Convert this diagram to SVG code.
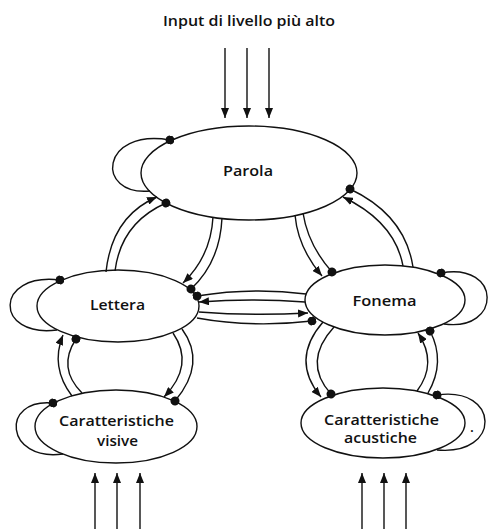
<svg xmlns="http://www.w3.org/2000/svg" width="489" height="529" viewBox="0 0 489 529">
<style>
.n{fill:#fff;stroke:#111;stroke-width:1.4}
.c{fill:none;stroke:#111;stroke-width:1.4}
.a{marker-end:url(#arr)}
.d{marker-end:url(#dot)}
text{font-family:"Open Sans","Noto Sans","Liberation Sans",sans-serif;font-weight:600;fill:#111;text-anchor:middle;font-size:14px}
</style>
<defs>
<marker id="arr" viewBox="0 0 10 8" refX="10" refY="4" markerWidth="10" markerHeight="8" orient="auto" markerUnits="userSpaceOnUse"><path d="M0,0 L10,4 L0,8 z" fill="#111"/></marker>
<marker id="dot" viewBox="0 0 9 9" refX="4.5" refY="4.5" markerWidth="9" markerHeight="9" orient="auto" markerUnits="userSpaceOnUse"><circle cx="4.5" cy="4.5" r="4.5" fill="#111"/></marker>
</defs>
<rect width="489" height="529" fill="#fff"/>
<text x="249" y="26" font-size="13.5" textLength="172" lengthAdjust="spacingAndGlyphs">Input di livello più alto</text>
<g id="parola">
<ellipse class="n" cx="249" cy="173" rx="108" ry="47"/>
<text x="248" y="176" textLength="50" lengthAdjust="spacingAndGlyphs">Parola</text>
</g>
<g id="lettera">
<ellipse class="n" cx="118" cy="306" rx="81" ry="36"/>
<text x="117.5" y="310" textLength="55" lengthAdjust="spacingAndGlyphs">Lettera</text>
</g>
<g id="fonema">
<ellipse class="n" cx="385" cy="300" rx="80" ry="35"/>
<text x="384.5" y="306" textLength="64" lengthAdjust="spacingAndGlyphs">Fonema</text>
</g>
<g id="caratteristiche-visive">
<ellipse class="n" cx="116" cy="426.5" rx="81" ry="36.5"/>
<text x="116.5" y="426" textLength="115" lengthAdjust="spacingAndGlyphs">Caratteristiche</text>
<text x="117.5" y="446" textLength="41" lengthAdjust="spacingAndGlyphs">visive</text>
</g>
<g id="caratteristiche-acustiche">
<ellipse class="n" cx="383" cy="423" rx="82" ry="35"/>
<text x="381.5" y="425" textLength="115" lengthAdjust="spacingAndGlyphs">Caratteristiche</text>
<text x="380.5" y="443" textLength="73" lengthAdjust="spacingAndGlyphs">acustiche</text>
</g>
<text x="472" y="432">.</text>
<g id="connectors">
<path class="c a" d="M225,48 L225,118"/>
<path class="c a" d="M247,48 L247,118"/>
<path class="c a" d="M269,48 L269,118"/>
<path class="c a" d="M95,529 L95,473"/>
<path class="c a" d="M117,529 L117,473"/>
<path class="c a" d="M140,529 L140,473"/>
<path class="c a" d="M362,529 L362,473"/>
<path class="c a" d="M384,529 L384,473"/>
<path class="c a" d="M406,529 L406,473"/>
<path class="c d" d="M150,191 C95,196 100,128 170,140"/>
<path class="c d" d="M57,330 C-6,338 -6,272 60,280"/>
<path class="c d" d="M444,324 C502,332 502,262 441,273"/>
<path class="c d" d="M63,454 C5,462 0,398 53,403"/>
<path class="c d" d="M437,450 C502,456 500,386 437,395"/>
<path class="c a" d="M106,272 Q112,216 157,197"/>
<path class="c d" d="M115,271 Q121,223 166,203"/>
<path class="c a" d="M213,217 Q211,256 183,283"/>
<path class="c d" d="M222,218 Q220,262 191,289"/>
<path class="c a" d="M295,215 Q298,248 322,276"/>
<path class="c d" d="M303,213 Q308,245 332,272"/>
<path class="c a" d="M403,266 Q395,222 343,197"/>
<path class="c d" d="M413,267 Q405,215 350,189"/>
<path class="c d" d="M306,294 Q252,287 197,296"/>
<path class="c a" d="M305,302 Q252,298 199,302"/>
<path class="c a" d="M199,312 Q252,316 308,313"/>
<path class="c d" d="M197,318 Q252,328 312,321"/>
<path class="c a" d="M72,396 Q50,367 63,335"/>
<path class="c d" d="M82,393 Q57,368 76,339"/>
<path class="c a" d="M173,333 Q195,365 164,397"/>
<path class="c d" d="M182,329 Q207,363 175,401"/>
<path class="c a" d="M323,322 Q290,360 321,397"/>
<path class="c d" d="M334,327 Q302,362 331,394"/>
<path class="c a" d="M417,391 Q438,363 418,333"/>
<path class="c d" d="M428,393 Q446,362 430,331"/>
</g>
</svg>
